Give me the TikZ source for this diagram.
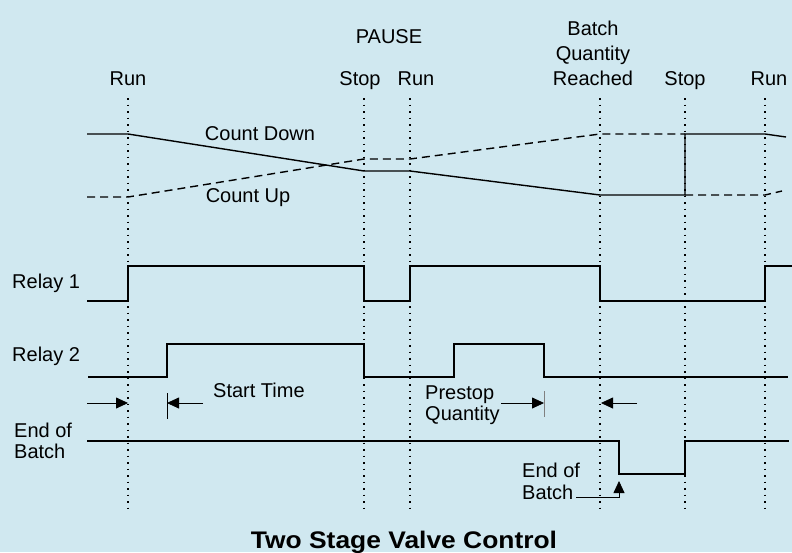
\documentclass[tikz,border=0pt]{standalone}
\usepackage{fontspec}
\setmainfont{Liberation Sans}
\usetikzlibrary{arrows.meta}
\definecolor{bgblue}{RGB}{208,232,240}

\begin{document}
\begin{tikzpicture}[x=1pt, y=-1pt,
  lbl/.style={inner sep=0pt, font=\fontsize{20}{24}\selectfont},
  sig/.style={line width=2pt, line join=miter},
  cnt/.style={line width=1.4pt},
  marker/.style={line width=1.8pt, dash pattern=on 1.8pt off 4.7pt},
  dim/.style={line width=0.8pt, -{Triangle[length=12pt, width=11pt]}}
]
  % background and page size
  \fill[bgblue] (0,0) rectangle (792,552);
  \useasboundingbox (0,0) rectangle (792,552);

  % dotted event markers
  \foreach \t in {128,364,410,600,685,765}
    \draw[marker] (\t,98) -- (\t,513);

  % event labels
  \node[lbl, anchor=base] (pause) at (389,43) {PAUSE};
  \node[lbl, anchor=base] (run1)  at (128,85) {Run};
  \node[lbl, anchor=base] (stop1) at (360,85) {Stop};
  \node[lbl, anchor=base] (run2)  at (416,85) {Run};
  \node[lbl, anchor=north, align=center, font=\fontsize{20}{25}\selectfont]
    (batchq) at (593,20.5) {Batch\\Quantity\\Reached};
  \node[lbl, anchor=base] (stop2) at (685,85) {Stop};
  \node[lbl, anchor=base] (run3)  at (769,85) {Run};

  % counters
  \draw[cnt] (87,134) -- (128,134) -- (364,171) -- (410,171) -- (600,195)
    -- (685,195) -- (685,134) -- (765,134) -- (786,137);
  \draw[cnt, dash pattern=on 8pt off 5pt] (87,197) -- (128,197) -- (364,159)
    -- (410,159) -- (600,134) -- (685,134);
  \draw[cnt, dash pattern=on 8pt off 5pt] (685,195) -- (765,195) -- (782,191);
  \node[lbl, anchor=base] (cdown) at (260,140) {Count Down};
  \node[lbl, anchor=base] (cup)   at (248,202) {Count Up};

  % signal names
  \node[lbl, anchor=base west] (relay1) at (12,288) {Relay 1};
  \node[lbl, anchor=base west] (relay2) at (12,361) {Relay 2};
  \node[lbl, anchor=north west, align=left, font=\fontsize{20}{21}\selectfont]
    (eob) at (14,422.5) {End of\\Batch};

  % signals
  \draw[sig] (87,301) -- (128,301) -- (128,266) -- (364,266) -- (364,301)
    -- (410,301) -- (410,266) -- (600,266) -- (600,301) -- (765,301)
    -- (765,266) -- (792,266);
  \draw[sig] (88,377) -- (167,377) -- (167,344) -- (364,344) -- (364,377)
    -- (454,377) -- (454,344) -- (544,344) -- (544,377) -- (788,377);
  \draw[sig] (87,441) -- (619,441) -- (619,474) -- (685,474) -- (685,441)
    -- (789,441);

  % start time
  \draw[dim] (87,403) -- (128,403);
  \draw[line width=0.8pt] (167,393) -- (167,419);
  \draw[dim] (203,403) -- (167,403);
  \node[lbl, anchor=base west] (stime) at (213,397) {Start Time};

  % prestop quantity
  \node[lbl, anchor=north west, align=left, font=\fontsize{20}{21}\selectfont]
    (prestop) at (425,385.5) {Prestop\\Quantity};
  \draw[dim] (501,403) -- (544,403);
  \draw[line width=0.8pt, gray] (544,391) -- (544,417);
  \draw[dim] (637,403) -- (601,403);

  % end of batch pulse
  \node[lbl, anchor=north west, align=left, font=\fontsize{20}{22}\selectfont]
    (eobnote) at (522,462.5) {End of\\Batch};
  \draw[dim] (576,497) -- (619,497) -- (619,481);

  % title
  \node[inner sep=0pt, anchor=base, font=\fontsize{24}{28}\selectfont\bfseries]
    (title) at (404,548) {\scalebox{1.1}[1]{Two Stage Valve Control}};
\end{tikzpicture}
\end{document}
